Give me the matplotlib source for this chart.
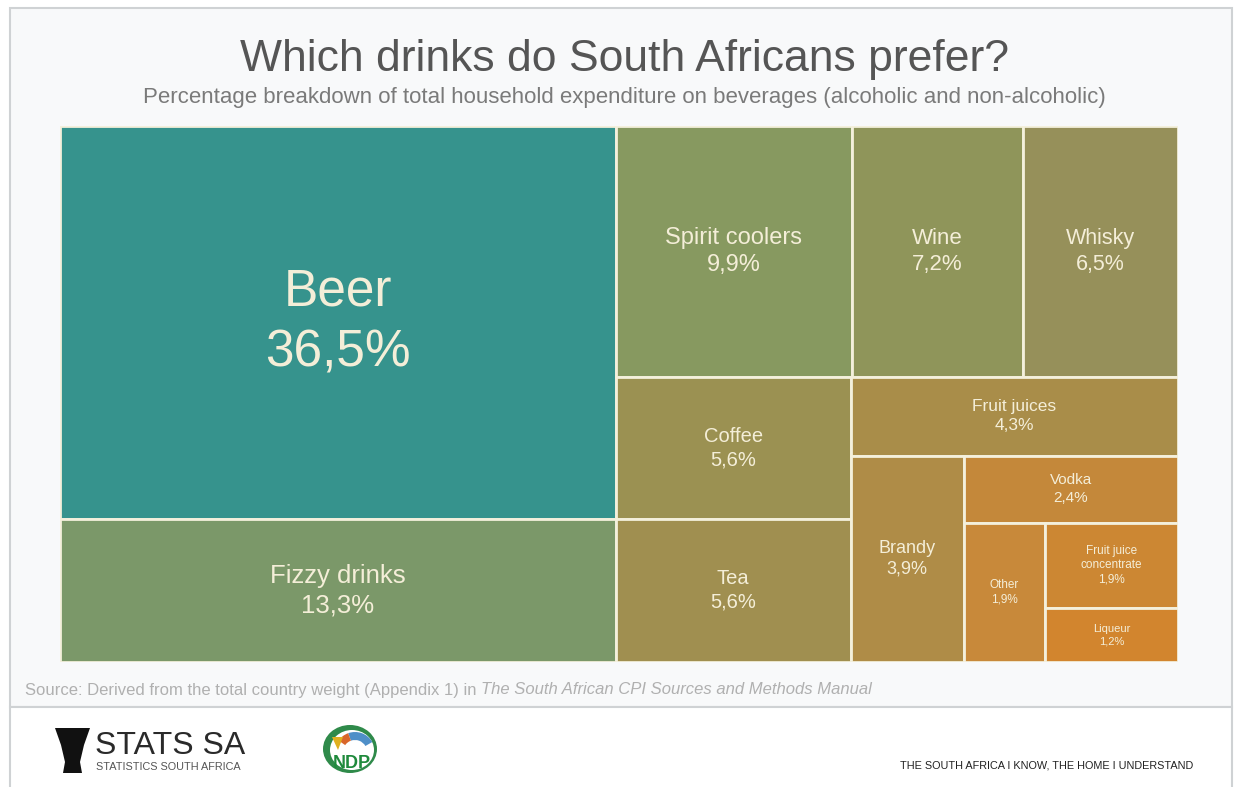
import matplotlib
matplotlib.use("Agg")
import matplotlib.pyplot as plt
from matplotlib.patches import Rectangle, Polygon, Ellipse, Wedge

plt.rcParams['font.family'] = ['Liberation Sans', 'DejaVu Sans']

# data
labels = ["Beer", "Fizzy drinks", "Spirit coolers", "Wine", "Whisky", "Coffee", "Tea",
          "Fruit juices", "Brandy", "Vodka", "Other", "Fruit juice\nconcentrate", "Liqueur"]
values = [36.5, 13.3, 9.9, 7.2, 6.5, 5.6, 5.6, 4.3, 3.9, 2.4, 1.9, 1.9, 1.2]
value_text = ["36,5%", "13,3%", "9,9%", "7,2%", "6,5%", "5,6%", "5,6%",
              "4,3%", "3,9%", "2,4%", "1,9%", "1,9%", "1,2%"]

# style
colors = ["#36938d", "#7b9869", "#879960", "#8f955a", "#96905a", "#9b9152", "#a08f50",
          "#a98d49", "#af8c47", "#c4883a", "#c8893a", "#cc8733", "#d2852e"]
font_sizes = [37, 18.5, 17, 16, 15.5, 14.5, 14.5, 12.5, 13, 11, 8.5, 8.5, 8]
text_col = "#f4eed8"
edge_col = "#f4f0dc"

# nesting of the treemap: 'h' = side by side, 'v' = stacked
tree = ('h', [('v', [0, 1]),
              ('v', [('h', [2, 3, 4]),
                     ('h', [('v', [5, 6]),
                            ('v', [7, ('h', [8, ('v', [9, ('h', [10, ('v', [11, 12])])])])])])])])


def total(node):
    if isinstance(node, int):
        return values[node]
    return sum(total(c) for c in node[1])


def layout(node, x, y, w, h, out):
    if isinstance(node, int):
        out[node] = (x, y, w, h)
        return
    d, kids = node
    s = total(node)
    for k in kids:
        f = total(k) / s
        if d == 'h':
            layout(k, x, y, w * f, h, out)
            x += w * f
        else:
            layout(k, x, y, w, h * f, out)
            y += h * f


W, H = 1118, 536
rects = {}
layout(tree, 0, 0, W, H, rects)

fig = plt.figure(figsize=(12.48, 7.87), dpi=100)
fig.patch.set_facecolor("white")

# background frame
bg = fig.add_axes([0, 0, 1, 1])
bg.set_xlim(0, 1248)
bg.set_ylim(787, 0)
bg.axis("off")
bg.add_patch(Rectangle((10, 8), 1222, 699, facecolor="#f8f9fa", edgecolor="#cfd2d4", lw=1.5))
bg.add_patch(Rectangle((10, 707), 1222, 82, facecolor="white", edgecolor="#cfd2d4", lw=1.5))

bg.text(624, 60, "Which drinks do South Africans prefer?", ha="center", va="center",
        fontsize=32, color="#555555")
bg.text(624, 97,
        "Percentage breakdown of total household expenditure on beverages (alcoholic and non-alcoholic)",
        ha="center", va="center", fontsize=16, color="#7a7a7a")

# source line, italic part placed right after the plain part
t1 = bg.text(25, 690, "Source: Derived from the total country weight (Appendix 1) in ", ha="left",
             va="center", fontsize=12, color="#b0b0b0")
fig.canvas.draw()
bb = t1.get_window_extent()
x_end = bg.transData.inverted().transform((bb.x1, bb.y0))[0]
bg.text(x_end, 690, "The South African CPI Sources and Methods Manual", ha="left", va="center",
        fontsize=12, color="#b0b0b0", style="italic")

# footer logos
bg.add_patch(Polygon([(55, 728), (90, 728), (84, 745), (80, 762), (82, 773), (63, 773),
                      (65, 762), (61, 745)], closed=True, facecolor="#111111"))
bg.text(95, 746, "STATS SA", ha="left", va="center", fontsize=23, color="#2a2a2a")
bg.text(96, 767, "STATISTICS SOUTH AFRICA", ha="left", va="center", fontsize=7.8, color="#555555")
bg.add_patch(Ellipse((350, 749), 54, 48, facecolor="#2f8a4a", edgecolor="none"))
bg.add_patch(Ellipse((352, 750), 44, 40, facecolor="white", edgecolor="none"))
# y axis is inverted here, so angles 200-340 sit on the upper side
bg.add_patch(Wedge((355, 752), 20, 250, 330, width=8, facecolor="#4f8fc8", edgecolor="none"))
bg.add_patch(Wedge((355, 752), 20, 215, 250, width=8, facecolor="#d9662a", edgecolor="none"))
bg.add_patch(Polygon([(332, 737), (343, 737), (338, 750)], closed=True, facecolor="#e0b020"))
bg.text(352, 763, "NDP", ha="center", va="center", fontsize=13, weight="bold", color="#1f8a3c")
bg.text(1193, 765, "THE SOUTH AFRICA I KNOW, THE HOME I UNDERSTAND", ha="right", va="center",
        fontsize=7.8, color="#222222")

# treemap
ax = fig.add_axes([60 / 1248, 1 - 662 / 787, W / 1248, H / 787])
ax.set_xlim(0, W)
ax.set_ylim(H, 0)
ax.axis("off")
for i, lab in enumerate(labels):
    x, y, w, h = rects[i]
    ax.add_patch(Rectangle((x, y), w, h, facecolor=colors[i], edgecolor=edge_col, lw=2))
    ax.text(x + w / 2, y + h / 2, lab + "\n" + value_text[i], ha="center", va="center",
            fontsize=font_sizes[i], color=text_col, linespacing=1.3)

fig.savefig("out.png", dpi=100, facecolor=fig.get_facecolor())
